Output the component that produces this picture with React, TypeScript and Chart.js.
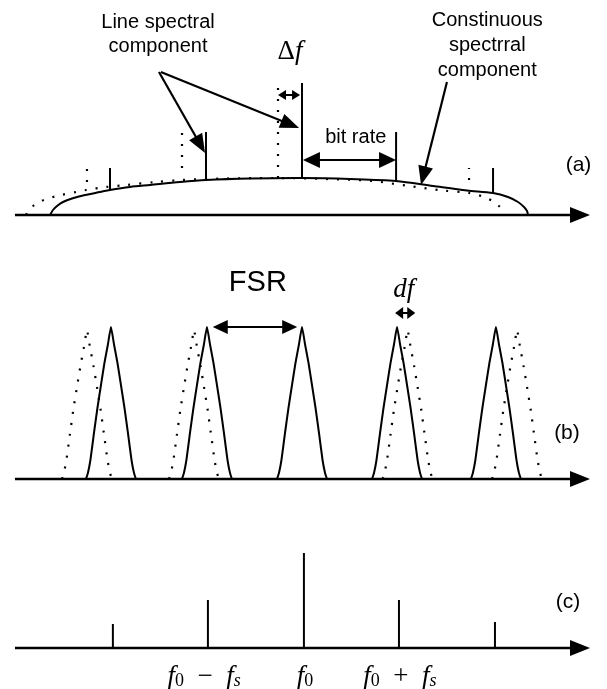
import React, { useEffect, useRef } from "react";
import { Chart, registerables } from "chart.js";

Chart.register(...registerables);

const W = 607;
const H = 689;
const SANS = '"Liberation Sans", Arial, sans-serif';
const SERIF = '"Liberation Serif", "Times New Roman", serif';

// frequency in units of the bit rate fs (f0 = 0); heights in px above each panel's baseline
const panelAxes = ["ya", "yb", "yc"];
const panelBaselinePx = [215, 479, 648];
const axisStart = -2.99;
const axisEnd = 3.0;

// (a) continuous spectrum envelope
const envX = [-2.625, -2.594, -2.552, -2.49, -2.396, -2.26, -2.104, -2.0, -1.792, -1.583, -1.271, -1.0, -0.542, 0, 0.5, 0.979, 1.365, 1.719, 1.99, 2.146, 2.25, 2.3125, 2.344, 2.354];
const envH = [0, 5, 9, 13, 16.5, 20, 23, 25, 28, 30, 33, 35, 36.5, 37, 36, 34, 29, 24.5, 22, 18, 13, 8, 4, 0];
const envShift = -0.25; // Δf
// (a) line spectral components
const lineX = [-2.0, -1.0, 0, 0.98, 1.99];
const lineTop = [47, 83, 132, 83, 47];
const lineBase = [25, 35, 37, 34, 22];
const dotLineX = [-2.24, -1.25, -0.25, 1.74];
const dotLineTop = [47, 82, 134, 47];
const dotLineBase = [33, 47, 37, 35];

// (b) filter comb
const peakSolidX = [-1.99, -0.99, 0, 0.99, 2.02];
const peakDotX = [-2.24, -1.125, 0, 1.1, 2.24];
const profileX = [-0.26, -0.24, -0.214, -0.177, -0.141, -0.104, -0.068, -0.031, 0, 0.031, 0.068, 0.104, 0.141, 0.177, 0.214, 0.24, 0.26];
const profileH = [0, 6, 19, 46, 71, 94, 116, 135, 152, 135, 116, 94, 71, 46, 19, 6, 0];
const profileDotH = [0, 6, 19, 45, 70, 92, 113, 132, 149, 132, 113, 92, 70, 45, 19, 6, 0];

// (c) filtered comb
const combX = [-1.97, -0.98, 0.02, 1.01, 2.01];
const combH = [24, 48, 95, 48, 26];
const tickX = [-1.02, 0.03, 1.02];

type Part = { t: string; f: string; dy?: number };
const tickParts: Part[][] = [
  [
    { t: "f", f: `italic 27px ${SERIF}` },
    { t: "0", f: `18px ${SERIF}`, dy: 4 },
    { t: "\u2002−\u2002", f: `27px ${SERIF}` },
    { t: "f", f: `italic 27px ${SERIF}` },
    { t: "s", f: `italic 18px ${SERIF}`, dy: 4 },
  ],
  [
    { t: "f", f: `italic 27px ${SERIF}` },
    { t: "0", f: `18px ${SERIF}`, dy: 4 },
  ],
  [
    { t: "f", f: `italic 27px ${SERIF}` },
    { t: "0", f: `18px ${SERIF}`, dy: 4 },
    { t: "\u2002+\u2002", f: `27px ${SERIF}` },
    { t: "f", f: `italic 27px ${SERIF}` },
    { t: "s", f: `italic 18px ${SERIF}`, dy: 4 },
  ],
];
const tickH = -29;

const textLabels: { axis: string; x: number; h: number; parts: Part[] }[] = [
  { axis: "ya", x: -1.5, h: 193, parts: [{ t: "Line spectral", f: `20px ${SANS}` }] },
  { axis: "ya", x: -1.5, h: 169, parts: [{ t: "component", f: `20px ${SANS}` }] },
  { axis: "ya", x: 1.93, h: 195, parts: [{ t: "Constinuous", f: `20px ${SANS}` }] },
  { axis: "ya", x: 1.93, h: 170, parts: [{ t: "spectrral", f: `20px ${SANS}` }] },
  { axis: "ya", x: 1.93, h: 145, parts: [{ t: "component", f: `20px ${SANS}` }] },
  { axis: "ya", x: -0.125, h: 163, parts: [{ t: "Δ", f: `27px ${SERIF}` }, { t: "f", f: `italic 27px ${SERIF}` }] },
  { axis: "ya", x: 0.56, h: 78, parts: [{ t: "bit rate", f: `20px ${SANS}` }] },
  { axis: "ya", x: 2.88, h: 50, parts: [{ t: "(a)", f: `21px ${SANS}` }] },
  { axis: "yb", x: -0.46, h: 196, parts: [{ t: "FSR", f: `29px ${SANS}` }] },
  { axis: "yb", x: 1.06, h: 189, parts: [{ t: "df", f: `italic 27px ${SERIF}` }] },
  { axis: "yb", x: 2.76, h: 46, parts: [{ t: "(b)", f: `21px ${SANS}` }] },
  { axis: "yc", x: 2.77, h: 46, parts: [{ t: "(c)", f: `21px ${SANS}` }] },
];

// callout arrows [x1, h1, x2, h2]
const calloutArrows: { axis: string; p: number[] }[] = [
  { axis: "ya", p: [-1.49, 143, -1.01, 62] },
  { axis: "ya", p: [-1.47, 143, -0.03, 87] },
  { axis: "ya", p: [1.51, 133, 1.24, 30] },
];
// double arrows [x1, x2, h, headLen, headHalfWidth]
const doubleArrows: { axis: string; p: number[] }[] = [
  { axis: "ya", p: [-0.25, -0.02, 120, 8, 5] },
  { axis: "ya", p: [0.01, 0.98, 55, 17, 8] },
  { axis: "yb", p: [-0.93, -0.05, 152, 15, 7] },
  { axis: "yb", p: [0.97, 1.18, 166, 8, 6] },
];

function head(ctx: CanvasRenderingContext2D, x1: number, y1: number, x2: number, y2: number, len: number, hw: number) {
  const a = Math.atan2(y2 - y1, x2 - x1);
  const c = Math.cos(a), s = Math.sin(a);
  ctx.beginPath();
  ctx.moveTo(x2, y2);
  ctx.lineTo(x2 - len * c + hw * s, y2 - len * s - hw * c);
  ctx.lineTo(x2 - len * c - hw * s, y2 - len * s + hw * c);
  ctx.closePath();
  ctx.fill();
}

const overlay = {
  id: "overlay",
  afterDatasetsDraw(chart: any) {
    const ctx: CanvasRenderingContext2D = chart.ctx;
    const xs = chart.scales.x;
    ctx.save();
    ctx.fillStyle = "#000";
    ctx.strokeStyle = "#000";
    panelAxes.forEach((id) => {
      const ys = chart.scales[id];
      const y = ys.getPixelForValue(0);
      const xa = xs.getPixelForValue(axisStart);
      const xb = xs.getPixelForValue(axisEnd);
      ctx.lineWidth = 2.6;
      ctx.beginPath();
      ctx.moveTo(xa, y);
      ctx.lineTo(xb - 10, y);
      ctx.stroke();
      head(ctx, xa, y, xb, y, 20, 8);
    });
    calloutArrows.forEach(({ axis, p }) => {
      const ys = chart.scales[axis];
      const x1 = xs.getPixelForValue(p[0]), y1 = ys.getPixelForValue(p[1]);
      const x2 = xs.getPixelForValue(p[2]), y2 = ys.getPixelForValue(p[3]);
      const a = Math.atan2(y2 - y1, x2 - x1);
      ctx.lineWidth = 2.2;
      ctx.beginPath();
      ctx.moveTo(x1, y1);
      ctx.lineTo(x2 - 10 * Math.cos(a), y2 - 10 * Math.sin(a));
      ctx.stroke();
      head(ctx, x1, y1, x2, y2, 19, 7.5);
    });
    doubleArrows.forEach(({ axis, p }) => {
      const ys = chart.scales[axis];
      const xa = xs.getPixelForValue(p[0]), xb = xs.getPixelForValue(p[1]);
      const y = ys.getPixelForValue(p[2]);
      ctx.lineWidth = 2;
      ctx.beginPath();
      ctx.moveTo(xa + p[3] * 0.6, y);
      ctx.lineTo(xb - p[3] * 0.6, y);
      ctx.stroke();
      head(ctx, xb, y, xa, y, p[3], p[4]);
      head(ctx, xa, y, xb, y, p[3], p[4]);
    });
    const drawParts = (parts: Part[], cx: number, cy: number) => {
      let total = 0;
      parts.forEach((pt) => {
        ctx.font = pt.f;
        total += ctx.measureText(pt.t).width;
      });
      let x = cx - total / 2;
      ctx.textAlign = "left";
      ctx.textBaseline = "middle";
      parts.forEach((pt) => {
        ctx.font = pt.f;
        ctx.fillText(pt.t, x, cy + (pt.dy || 0));
        x += ctx.measureText(pt.t).width;
      });
    };
    textLabels.forEach(({ axis, x, h, parts }) => {
      drawParts(parts, xs.getPixelForValue(x), chart.scales[axis].getPixelForValue(h));
    });
    tickX.forEach((tx, i) => {
      drawParts(tickParts[i], xs.getPixelForValue(tx), chart.scales.yc.getPixelForValue(tickH));
    });
    ctx.restore();
  },
};

function seg(axis: string, x1: number, y1: number, x2: number, y2: number, dotted = false, width = 2) {
  return {
    data: [{ x: x1, y: y1 }, { x: x2, y: y2 }],
    yAxisID: axis,
    showLine: true,
    pointRadius: 0,
    borderColor: "#000",
    borderWidth: dotted ? 2.2 : width,
    borderDash: dotted ? [2, 9] : [],
    clip: false as any,
  };
}

function curve(axis: string, xs: number[], hs: number[], shift: number, dotted = false, tension = 0.3) {
  return {
    data: xs.map((x, i) => ({ x: x + shift, y: hs[i] })),
    yAxisID: axis,
    showLine: true,
    pointRadius: 0,
    borderColor: "#000",
    borderWidth: dotted ? 2.2 : 2,
    borderDash: dotted ? [2, 9] : [],
    borderJoinStyle: "round",
    tension,
    clip: false as any,
  };
}

export default function App() {
  const ref = useRef<HTMLCanvasElement>(null);
  useEffect(() => {
    if (!ref.current) return;
    const pxPerUnit = 96;
    const x0px = 302;
    const datasets: any[] = [];
    // (a)
    datasets.push(curve("ya", envX, envH, envShift, true));
    datasets.push(curve("ya", envX, envH, 0, false));
    dotLineX.forEach((x, i) => datasets.push(seg("ya", x, dotLineBase[i], x, dotLineTop[i], true)));
    lineX.forEach((x, i) => datasets.push(seg("ya", x, lineBase[i], x, lineTop[i], false, 2)));
    // (b)
    peakDotX.forEach((c) => {
      if (c !== 0) datasets.push(curve("yb", profileX, profileDotH, c, true, 0.15));
    });
    peakSolidX.forEach((c) => datasets.push(curve("yb", profileX, profileH, c, false, 0.15)));
    // (c)
    combX.forEach((x, i) => datasets.push(seg("yc", x, 0, x, combH[i], false, 2)));

    const scales: any = {
      x: { type: "linear", display: false, min: -x0px / pxPerUnit, max: (W - x0px) / pxPerUnit },
    };
    panelAxes.forEach((id, i) => {
      scales[id] = { type: "linear", display: false, min: panelBaselinePx[i] - H, max: panelBaselinePx[i] };
    });

    const chart = new Chart(ref.current, {
      type: "scatter",
      data: { datasets },
      options: {
        responsive: false,
        animation: false,
        events: [],
        layout: { padding: 0 },
        plugins: { legend: { display: false }, tooltip: { enabled: false } },
        scales,
      },
      plugins: [overlay],
    });
    return () => chart.destroy();
  }, []);
  return (
    <div style={{ position: "absolute", left: 0, top: 0, width: W, height: H, background: "#fff" }}>
      <canvas ref={ref} width={W} height={H} style={{ display: "block", width: W, height: H }} />
    </div>
  );
}
